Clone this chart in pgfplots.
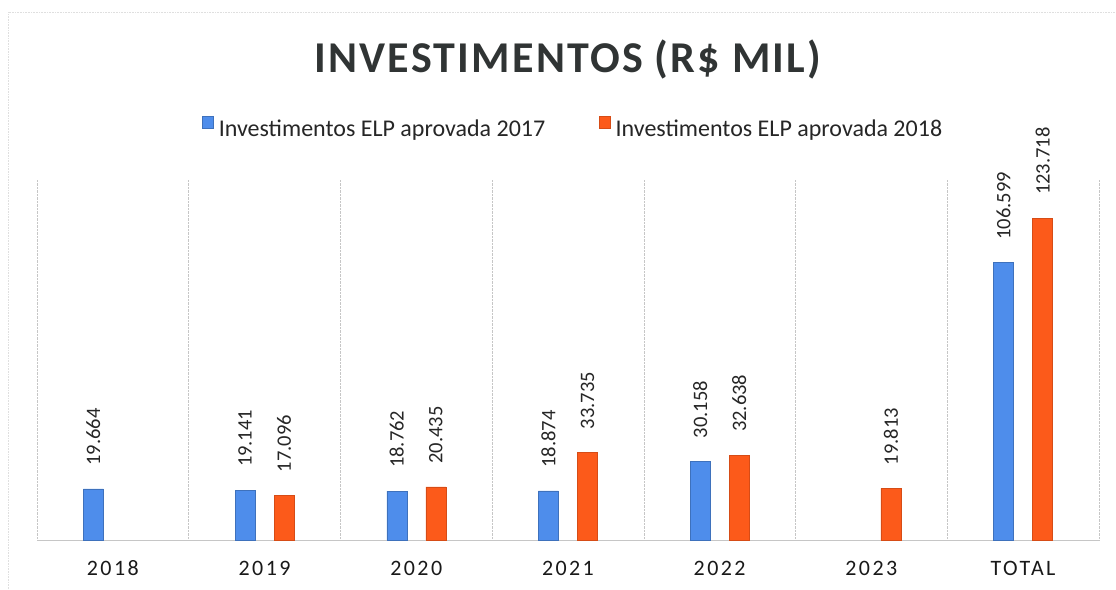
\documentclass[border=0pt]{standalone}
\usepackage{fontspec}
\setmainfont{Carlito}
\newfontfamily\titlefont[LetterSpace=5]{Carlito}
\newfontfamily\tickfont[LetterSpace=11]{Carlito}
\usepackage{pgfplots}
\pgfplotsset{compat=1.18}
\definecolor{cblue}{HTML}{4E8DEB}
\definecolor{corange}{HTML}{FC5A1A}
\definecolor{ctitle}{HTML}{303434}
\begin{document}
\begin{tikzpicture}
\path[use as bounding box] (-37pt,-49pt) rectangle (1079pt,540pt);
\draw[gray!25, densely dotted, line width=0.6pt] (-29pt,-49pt) -- (-29pt,528pt) -- (1079pt,528pt);
\node[font=\titlefont\bfseries\fontsize{44}{44}\selectfont, text=ctitle, anchor=base] at (531pt,467pt) {INVESTIMENTOS (R\$ MIL)};
\begin{axis}[
  at={(0,0)}, anchor=south west,
  width=1062pt, height=361pt, scale only axis,
  xmin=-0.5, xmax=6.5, ymin=0, ymax=138.8,
  xtick={0,1,2,3,4,5,6},
  xticklabels={2018,2019,2020,2021,2022,2023,TOTAL},
  xticklabel style={font=\tickfont\fontsize{22}{22}\selectfont, anchor=base, yshift=-35pt, text=black!90},
  major tick length=0pt, minor tick length=0pt,
  minor xtick={-0.5,0.5,1.5,2.5,3.5,4.5,5.5,6.5},
  xminorgrids,
  minor grid style={gray!45, densely dotted, line width=0.6pt},
  ytick=\empty,
  axis y line=none,
  axis x line=bottom,
  x axis line style={-, gray!45, line width=0.6pt},
  clip=false,
  /pgf/number format/fixed,
  /pgf/number format/fixed zerofill,
  /pgf/number format/precision=3,
  /pgf/number format/assume math mode=true,
  nodes near coords={\rotatebox{90}{\pgfmathprintnumber{\pgfplotspointmeta}}},
  nodes near coords style={anchor=south, inner ysep=23pt, inner xsep=0pt, font=\fontsize{20.5}{20.5}\selectfont, text=black!85},
  legend columns=2,
  legend style={at={(rel axis cs:0.505,1.141)}, anchor=center, draw=none, fill=none,
    font=\fontsize{24}{26}\selectfont, text=black!85,
    /tikz/every odd column/.append style={column sep=3pt},
    /tikz/every even column/.append style={column sep=52pt}},
  legend image code/.code={\draw[#1, line width=0.4pt] (0pt,1pt) rectangle (11pt,13pt);},
]
\addplot[ybar, bar width=20pt, bar shift=-19.5pt, fill=cblue, draw=cblue!80!black, line width=0.5pt,
  every node near coord/.append style={xshift=-19.5pt}]
  coordinates {(0,19.664) (1,19.141) (2,18.762) (3,18.874) (4,30.158) (6,106.599)};
\addlegendentry{Investimentos ELP aprovada 2017}
\addplot[ybar, bar width=20pt, bar shift=19.5pt, fill=corange, draw=corange!85!black, line width=0.5pt,
  every node near coord/.append style={xshift=19.5pt}]
  coordinates {(1,17.096) (2,20.435) (3,33.735) (4,32.638) (5,19.813) (6,123.718)};
\addlegendentry{Investimentos ELP aprovada 2018}
\end{axis}
\end{tikzpicture}
\end{document}
